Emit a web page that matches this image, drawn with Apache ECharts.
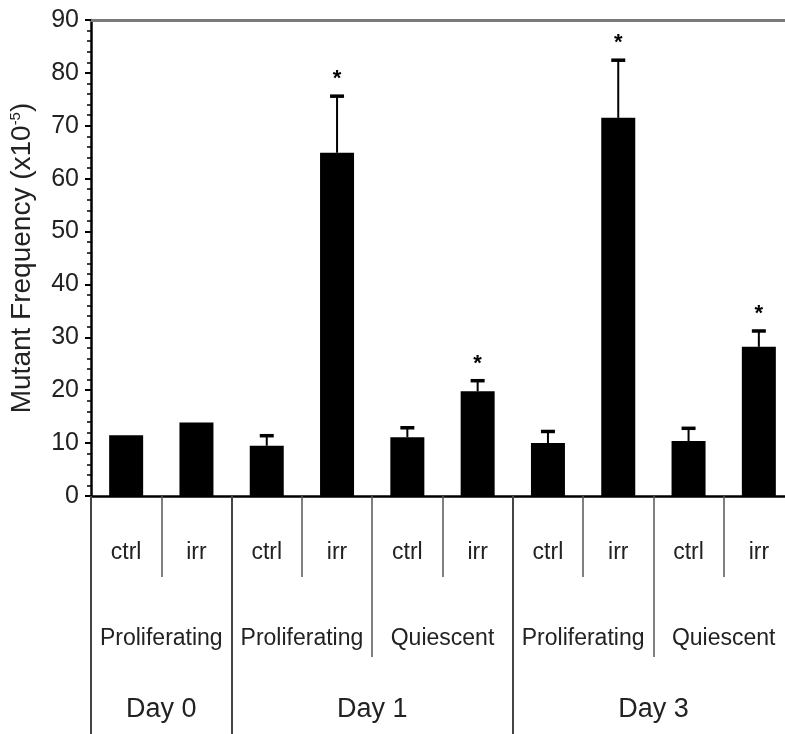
<!DOCTYPE html>
<html>
<head>
<meta charset="utf-8">
<script src="https://cdn.jsdelivr.net/npm/echarts@6/dist/echarts.min.js"></script>
<style>
  html, body { margin: 0; padding: 0; background: #fff; }
  #chart { width: 785px; height: 734px; }
</style>
</head>
<body>
<div id="chart"></div>
<script>
// ---- data ----
const treatmentLabels = ['ctrl', 'irr', 'ctrl', 'irr', 'ctrl', 'irr', 'ctrl', 'irr', 'ctrl', 'irr'];
const stateLabels = ['Proliferating', 'Proliferating', 'Quiescent', 'Proliferating', 'Quiescent'];
const dayLabels = ['Day 0', 'Day 1', 'Day 3'];
const daySpans = [2, 4, 4];
const meanValues = [11.5, 13.9, 9.5, 64.9, 11.1, 19.8, 10.0, 71.5, 10.4, 28.2];
const errorValues = [null, null, 1.9, 10.7, 1.8, 2.0, 2.2, 10.9, 2.4, 3.0];
const significant = [false, false, false, true, false, true, false, true, false, true];
const yTicks = [0, 10, 20, 30, 40, 50, 60, 70, 80, 90];

// day axis: boundary-aligned points (n+1), label at middle of each span
const dayAxisData = new Array(treatmentLabels.length + 1).fill('');
const dayTickIdx = [0];
let acc = 0;
daySpans.forEach((s, i) => {
  dayAxisData[acc + s / 2] = dayLabels[i];
  acc += s;
  dayTickIdx.push(acc);
});

const FONT = "'Liberation Sans', Arial, Helvetica, sans-serif";
const chart = echarts.init(document.getElementById('chart'));

chart.setOption({
  backgroundColor: '#fff',
  animation: false,
  grid: { left: 91, width: 703, top: 20, bottom: 238, containLabel: false, outerBoundsMode: 'none' },
  xAxis: [
    {
      type: 'category', data: treatmentLabels, position: 'bottom',
      axisLine: { show: true, lineStyle: { color: '#000', width: 2.5 } },
      axisTick: { show: true, interval: 0, length: 81, lineStyle: { color: '#555', width: 1.5 } },
      axisLabel: { interval: 0, margin: 45, fontSize: 23, color: '#222', fontFamily: FONT },
      splitLine: { show: false }
    },
    {
      type: 'category', data: stateLabels, position: 'bottom',
      axisLine: { show: false },
      axisTick: { show: true, interval: 0, length: 161, lineStyle: { color: '#555', width: 1.5 } },
      axisLabel: { interval: 0, margin: 131, fontSize: 23, color: '#222', fontFamily: FONT },
      splitLine: { show: false }
    },
    {
      type: 'category', data: dayAxisData, position: 'bottom', boundaryGap: false,
      axisLine: { show: false },
      axisTick: { show: true, length: 245, interval: (idx) => dayTickIdx.indexOf(idx) >= 0,
                  lineStyle: { color: '#444', width: 2 } },
      axisLabel: { interval: 0, margin: 200, fontSize: 27, color: '#222', fontFamily: FONT },
      splitLine: { show: false }
    },
    {
      type: 'category', data: treatmentLabels, position: 'top',
      axisLine: { show: true, lineStyle: { color: '#7a7a7a', width: 3 } },
      axisTick: { show: false }, axisLabel: { show: false }, splitLine: { show: false }
    }
  ],
  yAxis: {
    type: 'value', min: yTicks[0], max: yTicks[yTicks.length - 1], interval: 10,
    name: 'Mutant Frequency (x10{sup|-5})',
    nameLocation: 'middle', nameGap: 55,
    nameTextStyle: {
      fontSize: 28, color: '#222', fontFamily: FONT,
      rich: { sup: { fontSize: 15, verticalAlign: 'top', color: '#222', fontFamily: FONT, padding: [0, 0, 10, 0] } }
    },
    axisLine: { show: true, lineStyle: { color: '#000', width: 2.5 } },
    axisTick: { show: true, inside: false, length: 6, lineStyle: { color: '#000', width: 2 } },
    minorTick: { show: true, splitNumber: 5, length: 4, lineStyle: { color: '#000', width: 1.5 } },
    axisLabel: { margin: 12, fontSize: 25, color: '#222', fontFamily: FONT },
    splitLine: { show: false }
  },
  series: [
    {
      type: 'bar', xAxisIndex: 0, yAxisIndex: 0,
      data: meanValues, barWidth: 34,
      itemStyle: { color: '#000' }
    },
    {
      type: 'custom', xAxisIndex: 0, yAxisIndex: 0, z: 5,
      data: meanValues.map((v, i) => [i, v, errorValues[i] == null ? 0 : errorValues[i], significant[i] ? 1 : 0]),
      encode: { x: 0, y: 1 },
      renderItem: function (params, api) {
        const i = api.value(0), v = api.value(1), e = api.value(2), sig = api.value(3);
        const children = [];
        if (!e) return null;
        const p0 = api.coord([i, v]);
        const p1 = api.coord([i, v + e]);
        children.push({ type: 'line', shape: { x1: p0[0], y1: p0[1], x2: p1[0], y2: p1[1] },
                        style: { stroke: '#000', lineWidth: 2 } });
        children.push({ type: 'line', shape: { x1: p1[0] - 7, y1: p1[1], x2: p1[0] + 7, y2: p1[1] },
                        style: { stroke: '#000', lineWidth: 3.5 } });
        if (sig) {
          children.push({ type: 'text', style: { text: '*', x: p1[0], y: p1[1] - 17,
                          fill: '#000', font: 'bold 22px ' + FONT, textAlign: 'center', textVerticalAlign: 'middle' } });
        }
        return { type: 'group', children: children };
      }
    }
  ]
});
</script>
</body>
</html>
